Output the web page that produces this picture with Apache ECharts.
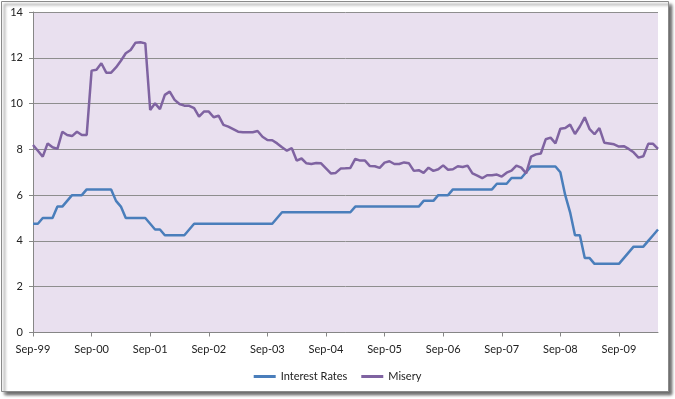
<!DOCTYPE html>
<html>
<head>
<meta charset="utf-8">
<script src="https://cdn.jsdelivr.net/npm/echarts@6/dist/echarts.min.js"></script>
<style>
html, body { margin: 0; padding: 0; background: #fff; }
#main { width: 675px; height: 399px; }
</style>
</head>
<body>
<div id="main"></div>
<script>
// monthly data, Sep-99 .. May-10
var startYear = 1999;
var startMonth = 8; // Sep
var monthNames = ['Jan','Feb','Mar','Apr','May','Jun','Jul','Aug','Sep','Oct','Nov','Dec'];

var interestRates = [
    4.75,4.75,5,5,5,5.5,5.5,5.75,6,6,6,6.25,
    6.25,6.25,6.25,6.25,6.25,5.75,5.5,5,5,5,5,5,
    4.75,4.5,4.5,4.25,4.25,4.25,4.25,4.25,4.5,4.75,4.75,4.75,
    4.75,4.75,4.75,4.75,4.75,4.75,4.75,4.75,4.75,4.75,4.75,4.75,
    4.75,4.75,5,5.25,5.25,5.25,5.25,5.25,5.25,5.25,5.25,5.25,
    5.25,5.25,5.25,5.25,5.25,5.25,5.5,5.5,5.5,5.5,5.5,5.5,
    5.5,5.5,5.5,5.5,5.5,5.5,5.5,5.5,5.75,5.75,5.75,6,
    6,6,6.25,6.25,6.25,6.25,6.25,6.25,6.25,6.25,6.25,6.5,
    6.5,6.5,6.75,6.75,6.75,7,7.25,7.25,7.25,7.25,7.25,7.25,
    7,6,5.25,4.25,4.25,3.25,3.25,3,3,3,3,3,
    3,3.25,3.5,3.75,3.75,3.75,4,4.25,4.5
];

var misery = [
    8.19,7.94,7.68,8.26,8.09,8.02,8.77,8.63,8.58,8.77,8.63,8.63,
    11.44,11.48,11.76,11.35,11.35,11.58,11.87,12.2,12.34,12.66,12.68,12.63,
    9.72,10.01,9.76,10.38,10.52,10.16,9.98,9.91,9.9,9.8,9.43,9.65,
    9.65,9.4,9.47,9.07,8.99,8.88,8.77,8.75,8.75,8.75,8.8,8.55,
    8.41,8.4,8.26,8.09,7.94,8.05,7.51,7.6,7.39,7.36,7.4,7.39,
    7.17,6.95,6.97,7.16,7.17,7.19,7.58,7.51,7.51,7.27,7.26,7.19,
    7.42,7.48,7.36,7.36,7.43,7.39,7.06,7.09,6.97,7.2,7.06,7.13,
    7.3,7.11,7.13,7.26,7.23,7.29,6.95,6.85,6.74,6.87,6.87,6.9,
    6.81,6.98,7.07,7.29,7.2,6.95,7.68,7.78,7.82,8.44,8.51,8.26,
    8.9,8.93,9.08,8.67,9.0,9.4,8.88,8.66,8.93,8.29,8.26,8.22,
    8.12,8.14,8.02,7.87,7.64,7.7,8.24,8.24,8.02
];

// category labels like "Sep-99"
var months = [];
for (var i = 0; i < misery.length; i++) {
    var m = (startMonth + i) % 12;
    var y = startYear + Math.floor((startMonth + i) / 12);
    months.push(monthNames[m] + '-' + String(y).substr(2));
}

var myChart = echarts.init(document.getElementById('main'));

var option = {
    animation: false,
    backgroundColor: '#fff',
    textStyle: { fontFamily: 'Lato' },
    graphic: [{
        type: 'rect',
        z: -100,
        shape: { x: 1.5, y: 1.5, width: 667, height: 390 },
        style: {
            fill: '#fff',
            stroke: '#8a8a8a',
            lineWidth: 1,
            shadowBlur: 3,
            shadowOffsetX: 3,
            shadowOffsetY: 3,
            shadowColor: 'rgba(0,0,0,0.6)'
        }
    }],
    grid: {
        left: 33,
        right: 17,
        top: 12,
        bottom: 66.5,
        show: true,
        backgroundColor: '#E9E0EF',
        borderWidth: 0
    },
    legend: {
        bottom: 12,
        left: 'center',
        icon: 'rect',
        itemWidth: 22,
        itemHeight: 3,
        itemGap: 14,
        textStyle: { fontFamily: 'Lato', fontSize: 11, color: '#222' },
        data: ['Interest Rates', 'Misery']
    },
    xAxis: {
        type: 'category',
        boundaryGap: false,
        data: months,
        axisLine: { show: true, lineStyle: { color: '#868686', width: 1 } },
        axisTick: { show: true, interval: 11, length: 4, lineStyle: { color: '#868686' } },
        axisLabel: { interval: 11, margin: 11, fontFamily: 'Lato', fontSize: 11, color: '#222' },
        splitLine: { show: false }
    },
    yAxis: {
        type: 'value',
        min: 0,
        max: 14,
        interval: 2,
        axisLine: { show: true, lineStyle: { color: '#868686', width: 1 } },
        axisTick: { show: true, length: 4, lineStyle: { color: '#868686' } },
        axisLabel: { margin: 10, fontFamily: 'Lato', fontSize: 11, color: '#222' },
        splitLine: { show: true, lineStyle: { color: '#8e8e8e', width: 1 } }
    },
    series: [
        {
            name: 'Interest Rates',
            type: 'line',
            data: interestRates,
            showSymbol: false,
            symbol: 'none',
            itemStyle: { color: '#4A7EBB' },
            lineStyle: { color: '#4A7EBB', width: 2.5 }
        },
        {
            name: 'Misery',
            type: 'line',
            data: misery,
            showSymbol: false,
            symbol: 'none',
            itemStyle: { color: '#7F63A1' },
            lineStyle: { color: '#7F63A1', width: 2.5 }
        }
    ]
};

myChart.setOption(option);
</script>
</body>
</html>
